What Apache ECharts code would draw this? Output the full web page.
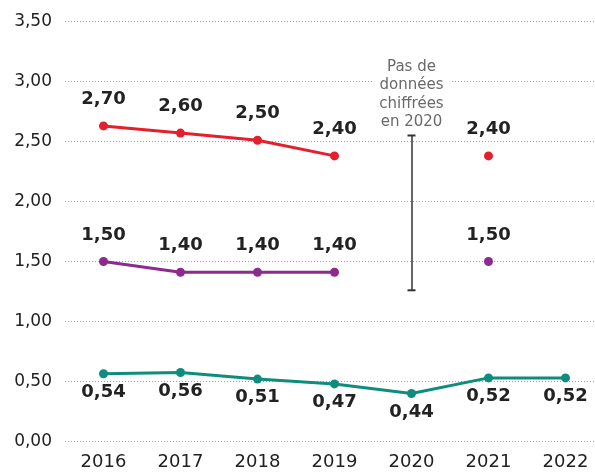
<!DOCTYPE html>
<html>
<head>
    <meta charset="utf-8">
    <title>Graphique</title>
    <script src="https://cdn.jsdelivr.net/npm/echarts@6/dist/echarts.min.js"></script>
    <style>
        html, body { margin: 0; padding: 0; background: #fff; overflow: hidden; }
        #main { width: 612px; height: 475px; }
    </style>
</head>
<body>
<div id="main"></div>
<script type="text/javascript">
    // années
    var years = ['2016', '2017', '2018', '2019', '2020', '2021', '2022'];

    // positions des points et étiquettes affichées
    var redValues = [2.63, 2.57, 2.51, 2.38, null, 2.38, null];
    var redLabels = ['2,70', '2,60', '2,50', '2,40', '', '2,40', ''];

    var purpleValues = [1.50, 1.41, 1.41, 1.41, null, 1.50, null];
    var purpleLabels = ['1,50', '1,40', '1,40', '1,40', '', '1,50', ''];

    var tealValues = [0.565, 0.575, 0.52, 0.48, 0.40, 0.53, 0.53];
    var tealLabels = ['0,54', '0,56', '0,51', '0,47', '0,44', '0,52', '0,52'];

    // annotation 2020
    var gapYear = '2020';
    var gapTop = 2.55, gapBottom = 1.26;
    var gapText = 'Pas de\ndonnées\nchiffrées\nen 2020';

    var font = '"DejaVu Sans", sans-serif';

    function serie(name, color, values, labels, pos, dist) {
        return {
            name: name,
            type: 'line',
            data: values,
            symbol: 'circle',
            symbolSize: 9,
            lineStyle: { color: color, width: 3 },
            itemStyle: { color: color },
            label: {
                show: true,
                position: pos,
                distance: dist,
                fontFamily: font,
                fontWeight: 'bold',
                fontSize: 18,
                color: '#222',
                formatter: function (p) { return labels[p.dataIndex]; }
            },
            animation: false
        };
    }

    // le graphique déborde un peu à droite (coupé par la fenêtre), comme l'original
    var myChart = echarts.init(document.getElementById('main'));

    var red = serie('rouge', '#e3202b', redValues, redLabels, 'top', 13);
    var purple = serie('violet', '#8c2a8e', purpleValues, purpleLabels, 'top', 13);
    var teal = serie('vert', '#0e8d7f', tealValues, tealLabels, 'bottom', 5);

    teal.markLine = {
        silent: true,
        symbol: ['rect', 'rect'],
        symbolSize: [8, 2],
        lineStyle: { color: '#333', width: 1.5, type: 'solid' },
        label: { show: false },
        data: [[{ coord: [gapYear, gapTop] }, { coord: [gapYear, gapBottom] }]]
    };
    teal.markPoint = {
        silent: true,
        symbol: 'rect',
        symbolSize: 0,
        data: [{ coord: [gapYear, 2.89] }],
        label: {
            show: true,
            position: 'inside',
            formatter: gapText,
            fontFamily: font,
            fontSize: 15,
            lineHeight: 18.5,
            color: '#6a6a6a',
            backgroundColor: '#fff',
            padding: [0, 6]
        }
    };

    var option = {
        backgroundColor: '#fff',
        grid: { left: 65, width: 539, top: 21.5, bottom: 33.5 },
        xAxis: {
            type: 'category',
            data: years,
            axisLine: { show: false },
            axisTick: { show: false },
            axisLabel: { fontFamily: font, fontSize: 18, color: '#222', margin: 12 }
        },
        yAxis: {
            type: 'value',
            min: 0,
            max: 3.5,
            interval: 0.5,
            axisLine: { show: false },
            axisTick: { show: false },
            splitLine: { lineStyle: { color: '#a89f92', type: [1, 2], width: 1 } },
            axisLabel: {
                fontFamily: font, fontSize: 17, color: '#222', margin: 13,
                formatter: function (v) { return v.toFixed(2).replace('.', ','); }
            }
        },
        series: [red, purple, teal]
    };
    myChart.setOption(option);
</script>
</body>
</html>
